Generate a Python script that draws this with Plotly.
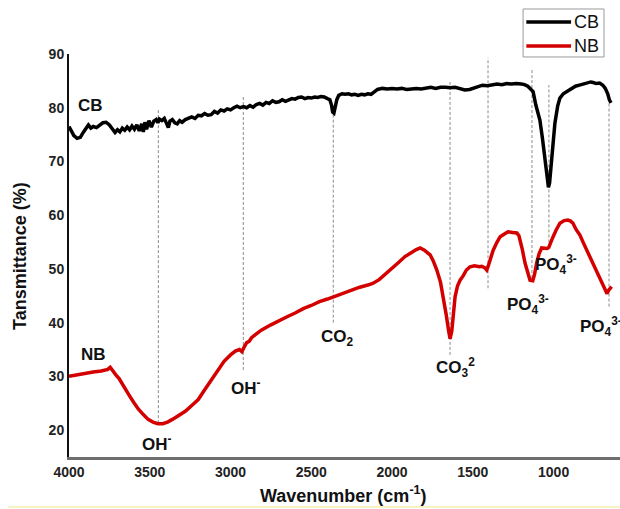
import plotly.graph_objects as go

# ---------------- data ----------------
cb_wavenumber = [4000, 3985, 3970, 3950, 3930, 3910, 3895, 3880, 3865, 3850, 3830, 3810, 3790, 3770,
                 3750, 3730, 3715, 3700, 3685, 3670, 3655, 3640, 3625, 3610, 3595, 3580, 3565, 3550,
                 3540, 3530, 3520, 3505, 3490, 3475, 3460, 3450, 3440, 3425, 3410, 3395, 3385, 3375,
                 3360, 3345, 3330, 3315, 3300, 3280, 3260, 3240, 3220, 3200, 3180, 3160, 3140, 3120,
                 3100, 3080, 3060, 3040, 3020, 3000, 2980, 2960, 2940, 2920, 2900, 2880, 2860, 2840,
                 2820, 2800, 2780, 2760, 2740, 2720, 2700, 2680, 2660, 2640, 2620, 2600, 2580, 2560,
                 2540, 2520, 2500, 2480, 2460, 2440, 2420, 2400, 2385, 2375, 2368, 2360, 2352, 2342,
                 2330, 2310, 2290, 2270, 2250, 2230, 2210, 2190, 2170, 2150, 2130, 2110, 2090, 2060,
                 2030, 2000, 1970, 1940, 1910, 1880, 1850, 1820, 1790, 1760, 1730, 1700, 1670, 1640,
                 1610, 1580, 1550, 1520, 1500, 1470, 1440, 1410, 1380, 1350, 1320, 1290, 1260, 1230,
                 1200, 1180, 1160, 1140, 1127, 1110, 1085, 1070, 1053, 1040, 1032, 1025, 1012, 1000,
                 992, 975, 961, 940, 919, 890, 865, 840, 815, 790, 770, 755, 735, 715, 695, 680, 665,
                 655, 645]
cb_transmittance = [76.5, 75.8, 74.8, 74.3, 74.5, 75.5, 76.3, 76.8, 76.2, 76.5, 76.3, 76.8, 77.2, 77.3,
                    76.8, 76.0, 75.4, 75.9, 75.5, 76.2, 75.8, 76.4, 75.9, 76.6, 76.0, 76.8, 75.7, 77.0,
                    75.5, 77.3, 76.0, 77.6, 76.4, 77.5, 77.8, 77.2, 77.9, 77.6, 78.0, 77.0, 76.3, 77.5,
                    77.8, 77.2, 77.0, 77.6, 77.3, 77.8, 78.0, 78.3, 78.0, 78.6, 78.5, 78.9, 78.6, 78.7,
                    79.3, 79.0, 79.6, 79.4, 79.8, 79.6, 80.0, 80.3, 80.0, 80.2, 80.0, 80.4, 80.1, 80.6,
                    80.8, 80.5, 81.0, 80.8, 81.3, 81.0, 81.1, 81.5, 81.2, 81.4, 81.7, 81.6, 81.9, 82.0,
                    81.7, 81.9, 81.8, 82.0, 81.9, 82.1, 82.0, 81.7, 81.5, 80.5, 79.2, 79.0, 80.0, 81.5,
                    82.3, 82.6, 82.5, 82.6, 82.4, 82.5, 82.3, 82.5, 82.4, 82.6, 82.5, 82.9, 83.4, 83.6,
                    83.5, 83.6, 83.5, 83.6, 83.4, 83.5, 83.6, 83.5, 83.7, 83.8, 83.6, 83.8, 83.8, 83.7,
                    83.8, 83.5, 83.3, 83.4, 83.6, 83.9, 84.2, 84.1, 84.3, 84.4, 84.3, 84.5, 84.4, 84.5,
                    84.4, 84.3, 84.0, 83.5, 83.0, 80.5, 77.7, 74.5, 70.8, 67.5, 65.2, 66.0, 70.8, 75.0,
                    77.1, 80.3, 81.8, 82.6, 83.0, 83.6, 84.0, 84.2, 84.4, 84.5, 84.8, 84.7, 84.5, 84.6,
                    84.2, 83.6, 82.6, 81.5, 80.9]

nb_wavenumber = [4000, 3950, 3900, 3850, 3800, 3760, 3745, 3730, 3710, 3690, 3660, 3630, 3600, 3570,
                 3540, 3510, 3480, 3450, 3420, 3390, 3360, 3320, 3280, 3240, 3200, 3160, 3120, 3080,
                 3040, 3000, 2970, 2945, 2930, 2915, 2900, 2885, 2870, 2850, 2810, 2750, 2700, 2650,
                 2600, 2550, 2500, 2450, 2400, 2364, 2300, 2250, 2200, 2150, 2120, 2080, 2040, 2000,
                 1960, 1920, 1880, 1850, 1826, 1800, 1780, 1764, 1745, 1723, 1700, 1684, 1665, 1650,
                 1641, 1630, 1620, 1610, 1595, 1579, 1560, 1540, 1517, 1490, 1460, 1445, 1425, 1414,
                 1405, 1390, 1374, 1350, 1331, 1300, 1282, 1255, 1228, 1215, 1208, 1195, 1177, 1160,
                 1146, 1129, 1118, 1105, 1090, 1074, 1055, 1040, 1030, 1018, 1003, 985, 961, 935, 911,
                 895, 880, 860, 837, 815, 795, 765, 733, 705, 682, 669, 660, 650, 641]
nb_transmittance = [30.0, 30.3, 30.6, 30.8, 31.0, 31.3, 31.7, 31.2, 30.3, 29.6, 28.0, 26.6, 25.2, 23.9,
                    22.9, 22.0, 21.5, 21.2, 21.2, 21.5, 22.0, 22.7, 23.5, 24.6, 25.7, 27.5, 29.3, 31.2,
                    32.8, 34.0, 34.7, 35.0, 34.6, 35.5, 36.3, 36.5, 37.2, 37.7, 38.6, 39.6, 40.4, 41.1,
                    41.8, 42.6, 43.2, 43.9, 44.4, 44.8, 45.6, 46.2, 46.6, 47.0, 47.3, 48.0, 49.0, 50.0,
                    51.2, 52.3, 53.1, 53.6, 53.9, 53.5, 53.0, 52.6, 51.5, 49.8, 47.5, 45.0, 41.5, 38.5,
                    37.0, 38.5, 42.0, 44.8, 46.8, 47.9, 48.7, 49.8, 50.4, 50.6, 50.4, 50.5, 50.2, 49.8,
                    50.5, 52.0, 53.5, 55.0, 56.0, 56.6, 56.9, 56.8, 56.7, 56.2, 55.4, 53.8, 51.1, 49.0,
                    47.9, 47.8, 49.0, 51.1, 52.8, 53.9, 53.9, 53.8, 54.0, 55.0, 56.0, 57.2, 58.5, 59.0, 59.1,
                    58.9, 58.5, 57.3, 56.3, 54.8, 53.5, 51.6, 49.8, 47.9, 46.1, 45.4, 46.0, 46.3, 46.7]

# band assignment guide lines (wavenumber, top and bottom transmittance of each guide)
band_wavenumber = [3447, 2921, 2364, 1641, 1406, 1134, 1029, 657]
band_top = [79.6, 82.0, 79.0, 84.8, 89.3, 87.4, 84.2, 80.9]
band_bottom = [21.3, 31.2, 40.0, 34.0, 46.4, 48.3, 54.0, 43.0]

series_names = ["CB", "NB"]
series_colors = ["black", "#d40000"]

x_ticks = [4000, 3500, 3000, 2500, 2000, 1500, 1000]
y_ticks = [20, 30, 40, 50, 60, 70, 80, 90]

FONT = "Arial, 'Liberation Sans', sans-serif"

fig = go.Figure()
fig.add_trace(go.Scatter(x=cb_wavenumber, y=cb_transmittance, mode="lines", name=series_names[0],
                         line=dict(color=series_colors[0], width=3.5), showlegend=False))
fig.add_trace(go.Scatter(x=nb_wavenumber, y=nb_transmittance, mode="lines", name=series_names[1],
                         line=dict(color=series_colors[1], width=3.5), showlegend=False))

for wn, yt, yb in zip(band_wavenumber, band_top, band_bottom):
    fig.add_shape(type="line", xref="x", yref="y", x0=wn, x1=wn, y0=yb, y1=yt,
                  line=dict(color="#8a8a8a", width=1, dash="3px,2px"), layer="below")

ann_font = dict(family=FONT, size=17, color="#111")
labels = [
    ("<b>CB</b>", 3867, 80.5),
    ("<b>NB</b>", 3848, 34.0),
    ("<b>OH<sup>-</sup></b>", 3453, 17.6),
    ("<b>OH<sup>-</sup></b>", 2902, 28.0),
    ("<b>CO<sub>2</sub></b>", 2340, 37.1),
    ("<b>CO<sub>3</sub><sup>2</sup></b>", 1610, 31.7),
    ("<b>PO<sub>4</sub><sup>3-</sup></b>", 1158, 43.3),
    ("<b>PO<sub>4</sub><sup>3-</sup></b>", 985, 50.9),
    ("<b>PO<sub>4</sub><sup>3-</sup></b>", 707, 39.2),
]
for txt, x, y in labels:
    fig.add_annotation(text=txt, x=x, y=y, xref="x", yref="y", showarrow=False,
                       font=ann_font, xanchor="center", yanchor="middle")

# legend box (drawn in paper coordinates, top-right, above the plot area)
fig.add_shape(type="rect", xref="paper", yref="paper", x0=0.8241, x1=0.9710, y0=0.9926, y1=1.1117,
              line=dict(color="#9a9a9a", width=1), fillcolor="white")
for name, color, yy in zip(series_names, series_colors, [1.0794, 1.0199]):
    fig.add_shape(type="line", xref="paper", yref="paper", x0=0.8300, x1=0.9112, y0=yy, y1=yy,
                  line=dict(color=color, width=3.5))
    fig.add_annotation(text=name, xref="paper", yref="paper", x=0.9135, y=yy, showarrow=False,
                       xanchor="left", yanchor="middle",
                       font=dict(family=FONT, size=18, color="#111"))

# axis titles
fig.add_annotation(text="<b>Tansmittance (%)</b>", xref="paper", yref="paper",
                   x=-0.09, y=0.5, showarrow=False, textangle=-90,
                   font=dict(family=FONT, size=18, color="#111"), xanchor="center", yanchor="middle")
fig.add_annotation(text="<b>Wavenumber (cm<sup>-1</sup>)</b>", xref="paper", yref="paper",
                   x=0.498, y=-0.093, showarrow=False,
                   font=dict(family=FONT, size=18, color="#111"), xanchor="center", yanchor="middle")

# faint yellow rule at the bottom of the picture
fig.add_shape(type="line", xref="paper", yref="paper", x0=-0.11, x1=1.0, y0=-0.124, y1=-0.124,
              line=dict(color="#f7f3c2", width=2))

fig.update_layout(
    width=620, height=509,
    margin=dict(l=68.5, r=0, t=54, b=52, autoexpand=False),
    paper_bgcolor="white", plot_bgcolor="white",
    font=dict(family=FONT, color="#111"),
    showlegend=False,
    xaxis=dict(range=[4000, 589], tickvals=x_ticks, ticktext=[f"<b>{v}</b>" for v in x_ticks],
               showgrid=False, zeroline=False, showline=True, linecolor="#6e6e6e", linewidth=2.5,
               ticks="", ticklen=0, tickfont=dict(family=FONT, size=14, color="#222")),
    yaxis=dict(range=[15, 90], tickvals=y_ticks, ticktext=[f"<b>{v}</b>" for v in y_ticks],
               showgrid=False, zeroline=False, showline=True, linecolor="#111", linewidth=2,
               ticks="", ticklen=0, tickfont=dict(family=FONT, size=14, color="#222")),
)

fig.write_html("out.html", config={"displayModeBar": False},
               post_script="document.body.style.margin='0';document.body.style.overflow='hidden';")
